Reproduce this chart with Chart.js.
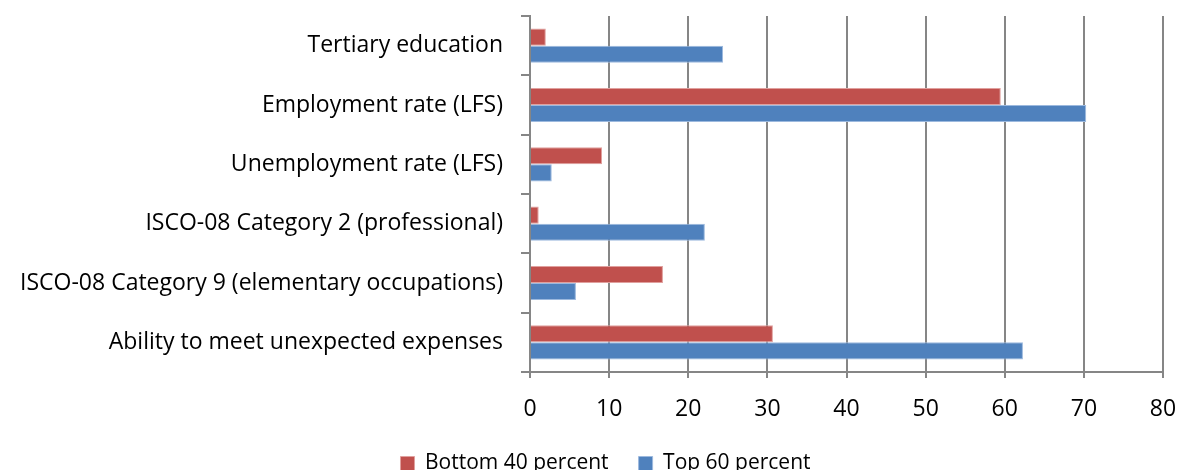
<!DOCTYPE html>
<html lang="en">
<head>
  <meta charset="UTF-8">
  <title>Bottom 40 vs Top 60 percent</title>
  <script src="https://cdn.jsdelivr.net/npm/chart.js"></script>
  <style>
    html, body {
      margin: 0;
      padding: 0;
      background: #fff;
    }
    .chart-box {
      position: relative;
      width: 1178px;
      height: 470px;
    }
  </style>
</head>
<body>
  <div class="chart-box">
    <canvas id="gapChart"></canvas>
  </div>
  <script>
    // data
    const categories = [
      'Tertiary education',
      'Employment rate (LFS)',
      'Unemployment rate (LFS)',
      'ISCO-08 Category 2 (professional)',
      'ISCO-08 Category 9 (elementary occupations)',
      'Ability to meet unexpected expenses'
    ];
    const bottom40 = [2.0, 59.5, 9.1, 1.1, 16.8, 30.7];
    const top60 = [24.4, 70.3, 2.75, 22.1, 5.8, 62.3];
    const xTicks = [0, 10, 20, 30, 40, 50, 60, 70, 80];

    const fontFamily = "'Open Sans', 'Noto Sans', sans-serif";
    const gridGray = '#868686';

    // legend sits a bit right of centre in the original
    const legendShift = {
      id: 'legendShift',
      afterLayout(chart) {
        if (chart.legend) chart.legend.left += 48;
      }
    };

    new Chart(document.getElementById('gapChart').getContext('2d'), {
      type: 'bar',
      data: {
        labels: categories,
        datasets: [{
          label: 'Bottom 40 percent',
          data: bottom40,
          backgroundColor: '#C0504D',
          borderColor: '#E0A09E',
          borderWidth: 1,
          categoryPercentage: 0.575,
          barPercentage: 1
        }, {
          label: 'Top 60 percent',
          data: top60,
          backgroundColor: '#4F81BD',
          borderColor: '#9CB9DE',
          borderWidth: 1,
          categoryPercentage: 0.575,
          barPercentage: 1
        }]
      },
      options: {
        indexAxis: 'y',
        responsive: true,
        maintainAspectRatio: false,
        animation: false,
        layout: { padding: { top: 16, right: 15, left: 0, bottom: 0 } },
        scales: {
          x: {
            min: 0,
            max: 80,
            afterBuildTicks: scale => { scale.ticks = xTicks.map(v => ({ value: v })); },
            grid: { color: gridGray, lineWidth: 2, tickLength: 6 },
            border: { color: gridGray, width: 2 },
            ticks: { color: '#000', font: { family: fontFamily, size: 23 }, padding: 18 },
            afterFit: scale => {
              scale.height = 51;
              scale.paddingLeft = 0;
              scale.paddingRight = 0;
            }
          },
          y: {
            grid: { drawOnChartArea: false, color: gridGray, lineWidth: 2, tickLength: 9, offset: true },
            border: { color: gridGray, width: 2 },
            ticks: { color: '#000', font: { family: fontFamily, size: 23 }, padding: 18 },
            afterFit: scale => {
              scale.width = 530;
              scale.paddingTop = 0;
              scale.paddingBottom = 0;
            }
          }
        },
        plugins: {
          legend: {
            position: 'bottom',
            maxHeight: 47,
            labels: {
              color: '#000',
              font: { family: fontFamily, size: 21 },
              boxWidth: 14,
              boxHeight: 14,
              padding: 30
            }
          },
          tooltip: { enabled: false }
        }
      },
      plugins: [legendShift]
    });
  </script>
</body>
</html>
